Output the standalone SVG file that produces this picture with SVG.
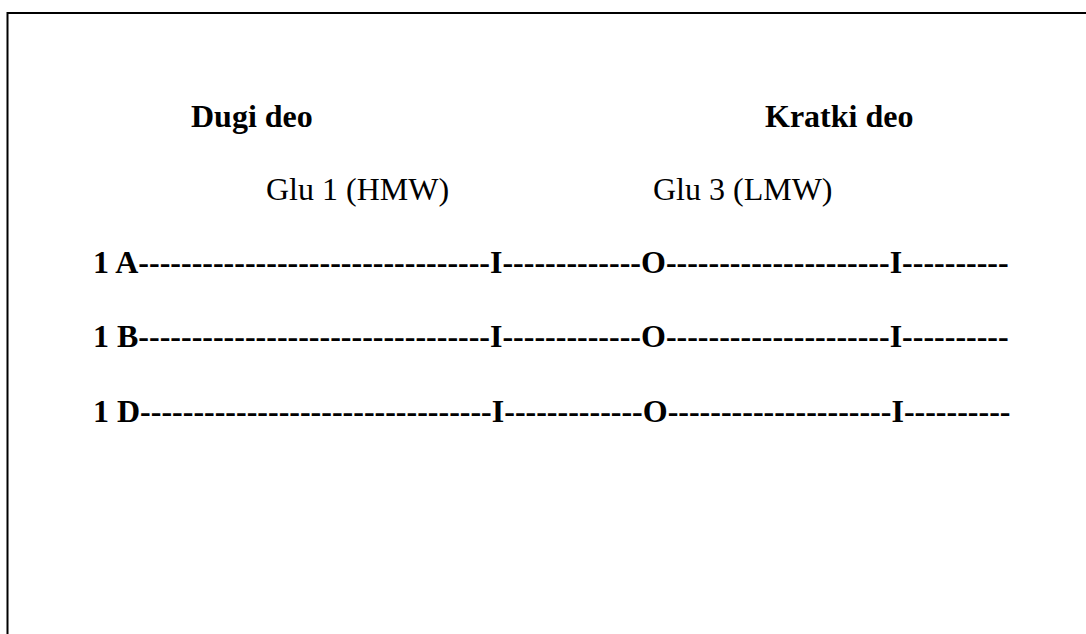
<svg xmlns="http://www.w3.org/2000/svg" width="1086" height="634" viewBox="0 0 1086 634">
<style>
  .frame { fill: none; stroke: #000; stroke-width: 2; }
  .t { font-family: "Liberation Serif", "Times New Roman", serif; font-size: 32px; fill: #000; }
  .b { font-weight: bold; }
</style>
<rect width="1086" height="634" fill="#fff"/>
<g id="frame">
  <path class="frame" d="M7.5,640 V13 H1090"/>
</g>
<g id="title-long">
  <text class="t b" x="191" y="127">Dugi deo</text>
</g>
<g id="title-short">
  <text class="t b" x="765" y="127">Kratki deo</text>
</g>
<g id="label-glu1">
  <text class="t" x="266" y="200">Glu 1 (HMW)</text>
</g>
<g id="label-glu3">
  <text class="t" x="653" y="200">Glu 3 (LMW)</text>
</g>
<g id="row-1A">
  <text class="t b" x="93" y="273">1 A---------------------------------I-------------O---------------------I----------</text>
</g>
<g id="row-1B">
  <text class="t b" x="93" y="347">1 B---------------------------------I-------------O---------------------I----------</text>
</g>
<g id="row-1D">
  <text class="t b" x="93" y="422">1 D---------------------------------I-------------O---------------------I----------</text>
</g>
</svg>
